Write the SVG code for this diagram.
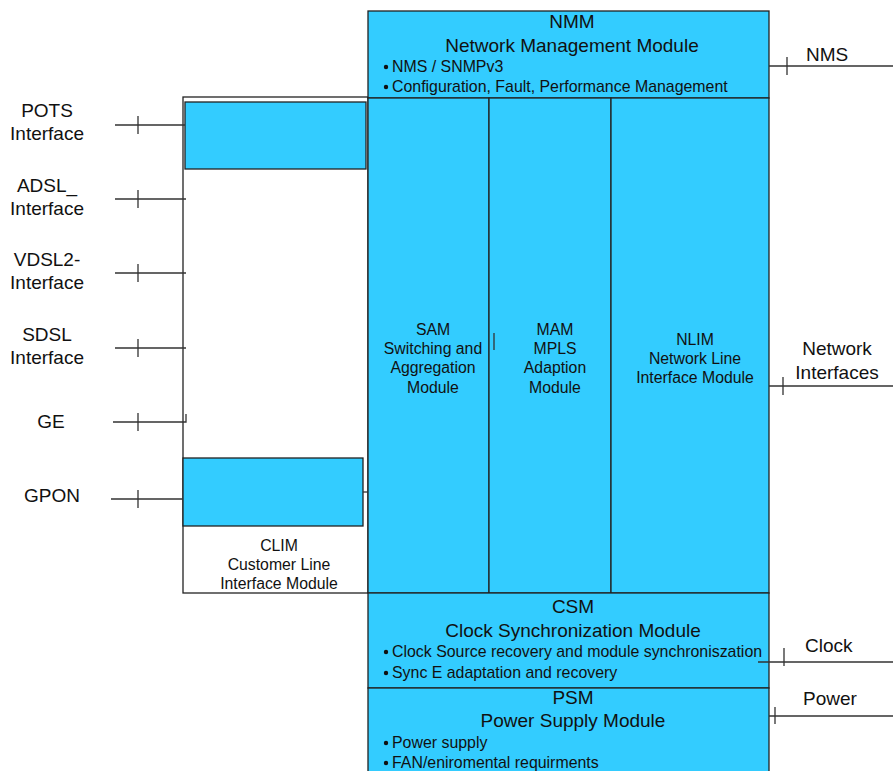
<svg xmlns="http://www.w3.org/2000/svg" width="893" height="771" viewBox="0 0 893 771">
<style>
text{font-family:"Liberation Sans",Arial,sans-serif;fill:#111}
.blue{fill:#33CCFF;stroke:#222;stroke-width:1.3}
.wbox{fill:#fff;stroke:#222;stroke-width:1.3}
.ln{stroke:#333;stroke-width:1.3;fill:none}
.t17{font-size:19px}
.t15{font-size:15.8px}
.t14{font-size:15.9px}
.c{text-anchor:middle}
</style>
<rect width="893" height="771" fill="#fff"/>
<g id="CLIM">
<rect class="wbox" x="183" y="97" width="185" height="496"/>
<text class="t15 c" x="279" y="551">CLIM</text>
<text class="t15 c" x="279" y="570">Customer Line</text>
<text class="t15 c" x="279" y="589">Interface Module</text>
</g>
<g id="POTSbox"><rect class="blue" x="185" y="102" width="181" height="67"/></g>
<g id="GPONbox"><rect class="blue" x="183" y="458" width="180" height="68"/></g>
<g id="NMM">
<rect class="blue" x="368" y="11" width="401" height="87"/>
<text class="t17 c" x="572" y="28">NMM</text>
<text class="t17 c" x="572" y="52">Network Management Module</text>
<circle cx="386" cy="67" r="2.2" fill="#111"/>
<text class="t14" x="392" y="72">NMS / SNMPv3</text>
<circle cx="386" cy="87" r="2.2" fill="#111"/>
<text class="t14" x="392" y="92">Configuration, Fault, Performance Management</text>
</g>
<g id="SAM">
<rect class="blue" x="368" y="98" width="121" height="495"/>
<text class="t15 c" x="433" y="335">SAM</text>
<text class="t15 c" x="433" y="354">Switching and</text>
<text class="t15 c" x="433" y="373">Aggregation</text>
<text class="t15 c" x="433" y="393">Module</text>
</g>
<g id="MAM">
<rect class="blue" x="489" y="98" width="122" height="495"/>
<text class="t15 c" x="555" y="335">MAM</text>
<text class="t15 c" x="555" y="354">MPLS</text>
<text class="t15 c" x="555" y="373">Adaption</text>
<text class="t15 c" x="555" y="393">Module</text>
</g>
<g id="NLIM">
<rect class="blue" x="611" y="98" width="158" height="495"/>
<text class="t15 c" x="695" y="345">NLIM</text>
<text class="t15 c" x="695" y="364">Network Line</text>
<text class="t15 c" x="695" y="383">Interface Module</text>
</g>
<g id="CSM">
<rect class="blue" x="368" y="593" width="401" height="95"/>
<text class="t17 c" x="573" y="613">CSM</text>
<text class="t17 c" x="573" y="637">Clock Synchronization Module</text>
<circle cx="386" cy="652" r="2.2" fill="#111"/>
<text class="t14" x="392" y="657">Clock Source recovery and module synchroniszation</text>
<circle cx="386" cy="673" r="2.2" fill="#111"/>
<text class="t14" x="392" y="678">Sync E adaptation and recovery</text>
</g>
<g id="PSM">
<rect class="blue" x="368" y="688" width="401" height="90"/>
<text class="t17 c" x="573" y="704">PSM</text>
<text class="t17 c" x="573" y="727">Power Supply Module</text>
<circle cx="386" cy="743" r="2.2" fill="#111"/>
<text class="t14" x="392" y="748">Power supply</text>
<circle cx="386" cy="763" r="2.2" fill="#111"/>
<text class="t14" x="392" y="768">FAN/eniromental requirments</text>
</g>
<g id="labels">
<text class="t17 c" x="47" y="117">POTS</text>
<text class="t17 c" x="47" y="140">Interface</text>
<text class="t17 c" x="47" y="192">ADSL_</text>
<text class="t17 c" x="47" y="215">Interface</text>
<text class="t17 c" x="47" y="266">VDSL2-</text>
<text class="t17 c" x="47" y="289">Interface</text>
<text class="t17 c" x="47" y="341">SDSL</text>
<text class="t17 c" x="47" y="364">Interface</text>
<text class="t17 c" x="51" y="428">GE</text>
<text class="t17 c" x="52" y="502">GPON</text>
<text class="t17" x="806" y="61">NMS</text>
<text class="t17 c" x="837" y="355">Network</text>
<text class="t17 c" x="837" y="379">Interfaces</text>
<text class="t17" x="805" y="652">Clock</text>
<text class="t17" x="803" y="705">Power</text>
</g>
<g id="connectors" class="ln">
<path d="M115 125H185M138 116V134"/>
<path d="M115 199H186M138 190V208"/>
<path d="M115 273H186M138 264V282"/>
<path d="M115 348H186M138 339V357"/>
<path d="M113 422H186V414M138 413V431"/>
<path d="M111 499H183M138 490V508"/>
<path d="M363 492H368"/>
<path d="M494 333V350"/>
<path d="M769 66H893M787 57V75"/>
<path d="M769 386H893M783 377V395"/>
<path d="M758 662H893M784 648V666"/>
<path d="M769 716H893M775 707V724"/>
</g>
</svg>
